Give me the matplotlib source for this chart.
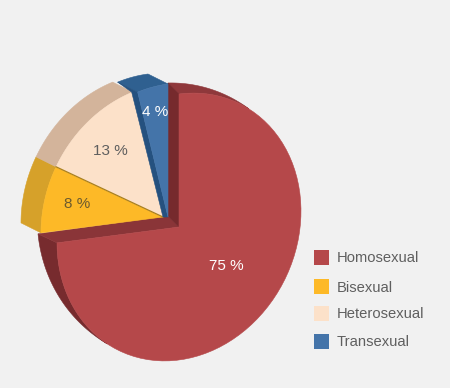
import numpy as np
import matplotlib
matplotlib.use("Agg")
from matplotlib import pyplot as plt
from matplotlib.patches import Polygon, Rectangle

plt.rcParams['font.family'] = ['Liberation Sans', 'DejaVu Sans']

categories = ["Homosexual", "Bisexual", "Heterosexual", "Transexual"]
shares = [75, 8, 13, 4]

top_col = ["#b5484a", "#fdb927", "#fce1c9", "#4474a9"]
side_col = ["#8f383b", "#d6a12a", "#d3b49b", "#2f6090"]
text_col = ["white", "#6b5a2e", "#5f5f5f", "white"]
label_pos = [(226, 266), (77, 204), (110, 151), (155, 112)]
legend_y = [258.5, 287.5, 314.5, 342.5]

BG = "#f1f1f1"
rc = (179, 227) #red slice center
ec = (163, 217) #center of the pulled out slices
bc = (168, 217) #center of the blue slice
R = (122, 133) #radii, the pie is drawn tilted so not round
SHEAR = 0.13 #y drop per x, gives the tilted ellipse
off = np.array([-20, -10]) #extrusion of the pulled out slices

def arc(c, t0, t1, n=80): #t in degrees clockwise from 12 o'clock, y axis points down
    t = np.radians(np.linspace(t0, t1, n))
    x = R[0] * np.sin(t)
    y = -R[1] * np.cos(t) - SHEAR * x
    return np.column_stack([c[0] + x, c[1] + y])

def wedge(ax, c, t0, t1, col, z):
    pts = np.vstack([[c], arc(c, t0, t1)])
    ax.add_patch(Polygon(pts, closed=True, fc=col, ec=col, lw=0.4, zorder=z))

def strip(ax, c, t0, t1, d, col, z, taper=False): #outer side of a slice, taper runs it out to nothing at t0
    a = arc(c, t0, t1)
    k = np.ones(len(a))
    if taper: k = np.linspace(0, 1, len(a)) ** 0.7
    b = a + k[:, None] * d
    ax.add_patch(Polygon(np.vstack([a, b[::-1]]), closed=True, fc=col, ec=col, lw=0.4, zorder=z))

fig = plt.figure(figsize=(4.5, 3.88), dpi=100, facecolor=BG)
ax = fig.add_axes([0, 0, 1, 1])
ax.set_xlim(0, 450)
ax.set_ylim(388, 0)
ax.axis("off")

edges = np.concatenate([[0], np.cumsum(shares)]) * 3.6

# red slice, sits behind the others
r_end = arc(rc, edges[1], edges[1], 1)[0]
r_top = arc(rc, 0, 0, 1)[0]
strip(ax, rc, 35, 0, np.array([-11, -11]), "#8f383b", 1, taper=True)
strip(ax, rc, 216, edges[1], np.array([-19, -9]), "#772b2e", 1, taper=True)
ax.add_patch(Polygon([rc, r_end, r_end + [-19, -9], np.array(rc) + [-11, -11]], closed=True, fc="#8a3538", ec="#8a3538", lw=0.4, zorder=2))
ax.add_patch(Polygon([rc, r_top, r_top + [-11, -11], np.array(rc) + [-11, -11]], closed=True, fc="#762a2d", ec="#762a2d", lw=0.4, zorder=2))
wedge(ax, rc, edges[0], edges[1], top_col[0], 3)

# yellow and peach
for i in [1, 2]:
    strip(ax, ec, edges[i], edges[i + 1], off, side_col[i], 4)
    wedge(ax, ec, edges[i], edges[i + 1], top_col[i], 5)
y_top = arc(ec, edges[2], edges[2], 1)[0]
ax.plot([ec[0], y_top[0]], [ec[1], y_top[1]], color="#a9801f", lw=0.9, zorder=6)

# blue
strip(ax, bc, edges[3], edges[4], off, side_col[3], 6)
b_left = arc(bc, edges[3], edges[3], 1)[0]
ax.add_patch(Polygon([bc, b_left, b_left + off, b_left + [-6, 0], (bc[0] - 5, bc[1])], closed=True, fc="#25517f", ec="#25517f", lw=0.4, zorder=6))
wedge(ax, bc, edges[3], edges[4], top_col[3], 7)

for i in range(4):
    ax.text(label_pos[i][0], label_pos[i][1], str(shares[i]) + " %", color=text_col[i], fontsize=11, ha="center", va="center", zorder=8)
    ax.add_patch(Rectangle((314, legend_y[i] - 8.5), 15, 15, fc=top_col[i], ec="none", zorder=8))
    ax.text(337, legend_y[i], categories[i], color="#5f5f5f", fontsize=10.6, ha="left", va="center", zorder=8)

fig.savefig("out.png", dpi=100, facecolor=BG)
